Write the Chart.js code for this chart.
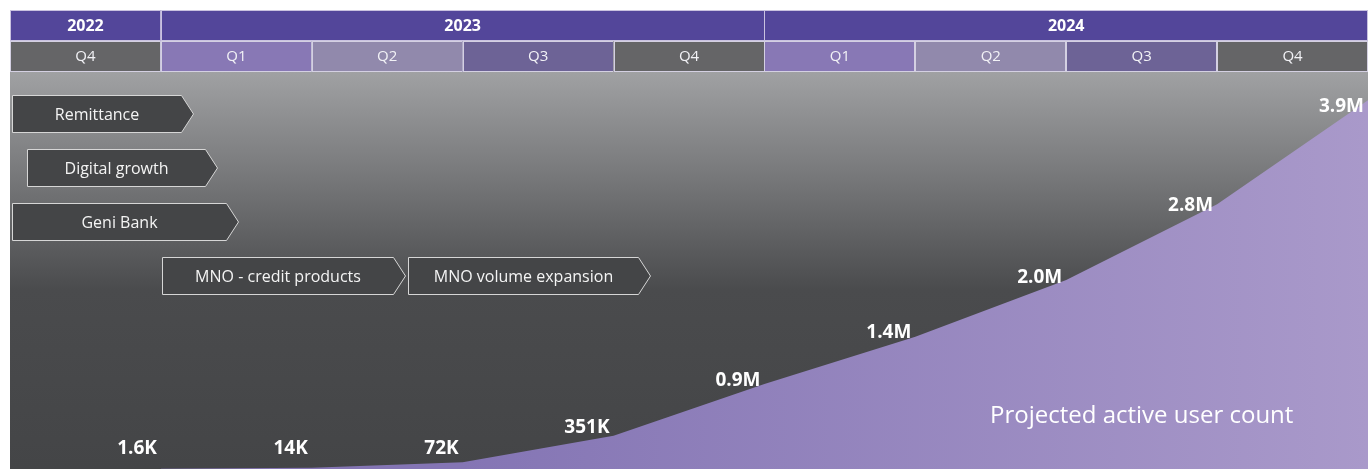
<!DOCTYPE html>
<html>
<head>
<meta charset="utf-8">
<script src="https://cdn.jsdelivr.net/npm/chart.js@4.4.1/dist/chart.umd.min.js"></script>
<style>
    html, body { margin: 0; padding: 0; background: #ffffff; }
    #wrap { position: relative; width: 1372px; height: 469px; }
</style>
</head>
<body>
<div id="wrap"><canvas id="userChart"></canvas></div>
<script>
// quarters and years shown in the header
var quarterLabels = ['Q4', 'Q1', 'Q2', 'Q3', 'Q4', 'Q1', 'Q2', 'Q3', 'Q4'];
var yearLabels = ['2022', '2023', '2024'];
var yearSpans = [1, 4, 4];

// projected active users, in millions, at the end of each quarter
var userCounts = [0.0016, 0.014, 0.072, 0.351, 0.9, 1.4, 2.0, 2.8, 3.9];
var countLabels = ['1.6K', '14K', '72K', '351K', '0.9M', '1.4M', '2.0M', '2.8M', '3.9M'];

// initiatives on the timeline (start / end in quarters from Q4 2022)
var milestoneNames = ['Remittance', 'Digital growth', 'Geni Bank', 'MNO - credit products', 'MNO volume expansion'];
var milestoneStart = [0.01, 0.11, 0.01, 1.01, 2.64];
var milestoneEnd = [1.21, 1.37, 1.51, 2.62, 4.24];
var milestoneRow = [0, 1, 2, 3, 3];

var caption = 'Projected active user count';

var ctx = document.getElementById('userChart').getContext('2d');

var quarterFill = { Q1: '#8878b5', Q2: '#9189ac', Q3: '#6d6396', Q4: '#656567' };

// y of the area's top edge at pixel x
function lineYAt(points, x) {
    for (var i = 1; i < points.length; i++) {
        if (x <= points[i].x) {
            var a = points[i - 1], b = points[i];
            if (x < a.x) return a.y;
            return a.y + (b.y - a.y) * (x - a.x) / (b.x - a.x);
        }
    }
    return points[points.length - 1].y;
}

var timelinePlugin = {
    id: 'timeline',
    beforeDraw: function(chart) {
        var c = chart.ctx;
        var area = chart.chartArea;
        var xs = chart.scales.x;
        c.save();
        c.fillStyle = '#ffffff';
        c.fillRect(0, 0, chart.width, chart.height);

        // grey backdrop
        var bg = c.createLinearGradient(0, area.top, 0, area.bottom);
        bg.addColorStop(0, '#a0a1a3');
        bg.addColorStop(0.55, '#4a4b4d');
        bg.addColorStop(1, '#444547');
        c.fillStyle = bg;
        c.fillRect(area.left, area.top, area.right - area.left, area.bottom - area.top);

        // year row
        var yTop = area.top - 62, yMid = area.top - 31;
        var start = 0;
        c.textAlign = 'center';
        c.textBaseline = 'middle';
        for (var i = 0; i < yearLabels.length; i++) {
            var x0 = xs.getPixelForValue(start);
            var x1 = xs.getPixelForValue(start + yearSpans[i]);
            c.fillStyle = '#53469a';
            c.fillRect(x0, yTop, x1 - x0, 31);
            c.strokeStyle = '#c9c2e0';
            c.lineWidth = 1;
            c.strokeRect(Math.round(x0) + 0.5, yTop + 0.5, Math.round(x1 - x0) - 1, 30);
            c.fillStyle = '#ffffff';
            c.font = 'bold 16px "Open Sans"';
            c.fillText(yearLabels[i], (x0 + x1) / 2, yTop + 16);
            start += yearSpans[i];
        }

        // quarter row
        c.font = '400 15px "Open Sans"';
        for (var q = 0; q < quarterLabels.length; q++) {
            var qx0 = xs.getPixelForValue(q);
            var qx1 = xs.getPixelForValue(q + 1);
            c.fillStyle = quarterFill[quarterLabels[q]];
            c.fillRect(qx0, yMid, qx1 - qx0, 31);
            c.strokeStyle = '#d4d0e2';
            c.strokeRect(Math.round(qx0) + 0.5, yMid + 0.5, Math.round(qx1 - qx0) - 1, 30);
            c.fillStyle = '#f2f2f6';
            c.fillText(quarterLabels[q], (qx0 + qx1) / 2, yMid + 16);
        }
        c.restore();
    },
    afterDatasetsDraw: function(chart) {
        var c = chart.ctx;
        var area = chart.chartArea;
        var xs = chart.scales.x;
        c.save();

        // chevron boxes
        c.font = '400 16px "Open Sans"';
        c.textAlign = 'center';
        c.textBaseline = 'middle';
        for (var i = 0; i < milestoneNames.length; i++) {
            var left = Math.round(xs.getPixelForValue(milestoneStart[i])) + 0.5;
            var tip = Math.round(xs.getPixelForValue(milestoneEnd[i])) + 0.5;
            var top = area.top + 23.5 + milestoneRow[i] * 54;
            var h = 37;
            var body = tip - 12;
            c.beginPath();
            c.moveTo(left, top);
            c.lineTo(body, top);
            c.lineTo(tip, top + h / 2);
            c.lineTo(body, top + h);
            c.lineTo(left, top + h);
            c.closePath();
            c.fillStyle = '#444547';
            c.fill();
            c.strokeStyle = '#d6d6d6';
            c.lineWidth = 1;
            c.stroke();
            c.fillStyle = '#f4f4f4';
            c.fillText(milestoneNames[i], (left + body) / 2, top + h / 2 + 1);
        }

        // value labels, sitting just above the area's edge
        c.font = 'bold 19px "Open Sans"';
        c.textAlign = 'right';
        c.textBaseline = 'alphabetic';
        c.fillStyle = '#ffffff';
        var pts = chart.getDatasetMeta(0).data;
        pts.forEach(function(pt, k) {
            var right = pt.x - 4;
            var mid = right - c.measureText(countLabels[k]).width / 2;
            var y = Math.min(lineYAt(pts, mid) - 7, area.bottom - 15);
            c.fillText(countLabels[k], right, y);
        });

        // caption
        c.font = '400 24px "Open Sans"';
        c.textAlign = 'center';
        c.textBaseline = 'middle';
        c.fillText(caption, xs.getPixelForValue(7.5), area.bottom - 53);
        c.restore();
    }
};

var userChart = new Chart(ctx, {
    type: 'line',
    data: {
        datasets: [{
            label: caption,
            data: userCounts.map(function(v, i) { return { x: i + 1, y: v }; }),
            fill: 'start',
            borderWidth: 0,
            borderColor: 'rgba(0,0,0,0)',
            pointRadius: 0,
            tension: 0,
            backgroundColor: function(context) {
                var chart = context.chart;
                var area = chart.chartArea;
                if (!area) return '#9686c0';
                var g = chart.ctx.createLinearGradient(chart.scales.x.getPixelForValue(3), 0, area.right, 0);
                g.addColorStop(0, '#8475b4');
                g.addColorStop(1, '#a999ca');
                return g;
            }
        }]
    },
    options: {
        responsive: true,
        maintainAspectRatio: false,
        animation: false,
        layout: { padding: { top: 72, left: 10, right: 4, bottom: 0 } },
        plugins: {
            legend: { display: false },
            tooltip: { enabled: false }
        },
        scales: {
            x: { type: 'linear', min: 0, max: 9, display: false },
            y: { min: 0, max: 4.2, display: false }
        }
    },
    plugins: [timelinePlugin]
});
</script>
</body>
</html>
